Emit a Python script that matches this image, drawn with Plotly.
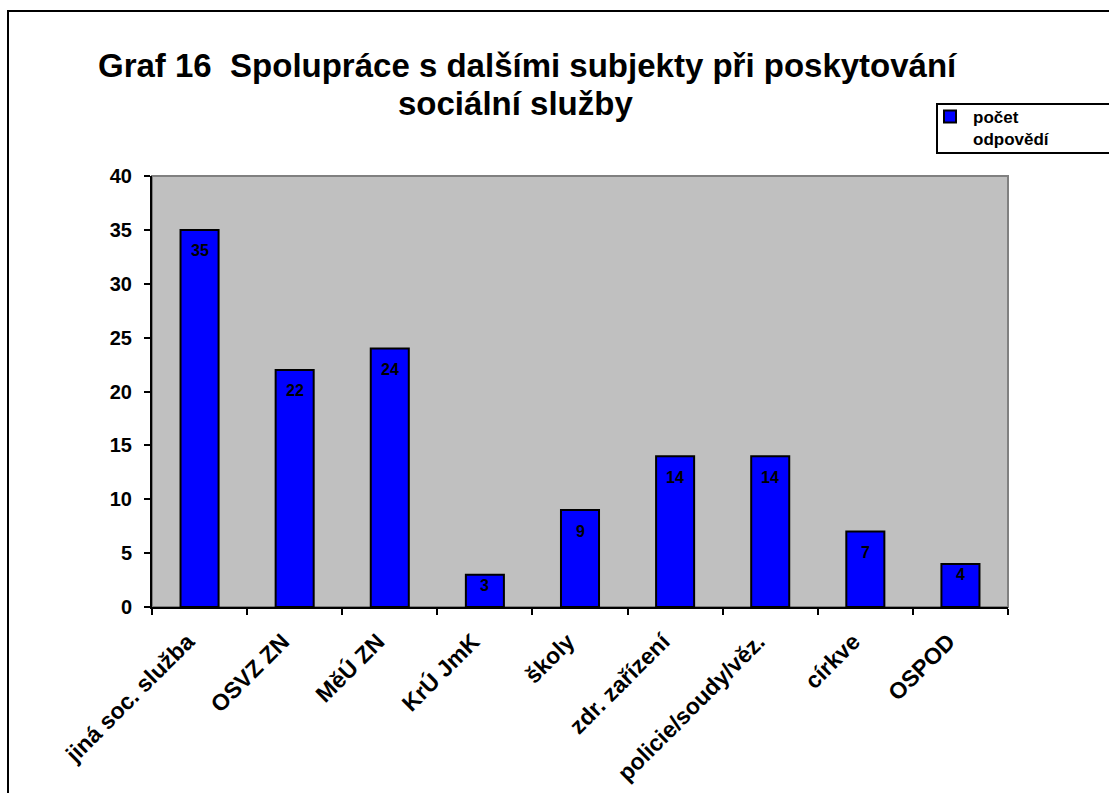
import plotly.graph_objects as go

categories = ["jiná soc. služba", "OSVZ ZN", "MěÚ ZN", "KrÚ JmK", "školy",
              "zdr. zařízení", "policie/soudy/věz.", "církve", "OSPOD"]
values = [35, 22, 24, 3, 9, 14, 14, 7, 4]
series_name = "počet<br>odpovědí"
title_line1 = "Graf 16  Spolupráce s dalšími subjekty při poskytování"
title_line2 = "sociální služby"

FONT = "Liberation Sans, Arial, sans-serif"
W, H = 1109, 793
L, R, T, B = 152, 1008, 176, 607
pw, ph = R - L, B - T

def px_x(x):
    return (x - L) / pw

def px_y(y):
    return (B - y) / ph

fig = go.Figure()
fig.add_trace(go.Bar(
    x=categories, y=values, name=series_name,
    marker=dict(color="#0000FF", line=dict(color="black", width=2)),
    showlegend=True,
))

annotations = []
for c, v in zip(categories, values):
    bar_px = v * ph / 40
    shift = -21 if bar_px > 50 else -11
    annotations.append(dict(
        x=c, y=v, xref="x", yref="y", text=str(v), showarrow=False,
        yanchor="middle", yshift=shift,
        font=dict(family=FONT, size=16, color="black", weight="bold"),
    ))

annotations.append(dict(
    x=px_x(528), y=px_y(66), xref="paper", yref="paper", text=title_line1,
    showarrow=False, xanchor="center", yanchor="middle",
    font=dict(family=FONT, size=33, color="black", weight="bold"),
))
annotations.append(dict(
    x=px_x(515), y=px_y(104), xref="paper", yref="paper", text=title_line2,
    showarrow=False, xanchor="center", yanchor="middle",
    font=dict(family=FONT, size=33, color="black", weight="bold"),
))

shapes = [
    dict(type="rect", xref="paper", yref="paper", x0=0, x1=1, y0=0, y1=1,
         line=dict(color="#808080", width=2), layer="below"),
    dict(type="rect", xref="paper", yref="paper",
         x0=px_x(8), y0=px_y(H + 40), x1=px_x(W + 40), y1=px_y(11),
         line=dict(color="black", width=2), fillcolor="rgba(0,0,0,0)"),
    # legend frame (extends beyond the right edge as in the reference)
    dict(type="rect", xref="paper", yref="paper",
         x0=px_x(937), y0=px_y(153), x1=px_x(W + 40), y1=px_y(104),
         line=dict(color="black", width=2), fillcolor="white", layer="below"),
]

fig.update_layout(
    width=W, height=H,
    margin=dict(l=L, r=W - R, t=T, b=H - B, autoexpand=False),
    paper_bgcolor="white", plot_bgcolor="#C0C0C0",
    bargap=0.6,
    font=dict(family=FONT, color="black"),
    annotations=annotations,
    shapes=shapes,
    legend=dict(
        x=px_x(927), y=px_y(99), xanchor="left", yanchor="top",
        borderwidth=0, bgcolor="rgba(0,0,0,0)",
        font=dict(family=FONT, size=17, color="black", weight="bold"),
        valign="top", itemwidth=36, tracegroupgap=0,
    ),
    xaxis=dict(
        showline=True, linecolor="black", linewidth=2,
        ticks="outside", ticklen=6, tickwidth=2, tickcolor="black",
        tickson="boundaries", tickangle=-45, showgrid=False,
        ticklabelstandoff=10, ticklabelshift=-12,
        tickfont=dict(family=FONT, size=23, color="black", weight="bold"),
    ),
    yaxis=dict(
        range=[0, 40], dtick=5, showline=True, linecolor="black", linewidth=2,
        ticks="outside", ticklen=6, tickwidth=2, tickcolor="black",
        showgrid=False, zeroline=False, ticklabelstandoff=8,
        tickfont=dict(family=FONT, size=20, color="black", weight="bold"),
    ),
)

fig.write_html("out.html")
